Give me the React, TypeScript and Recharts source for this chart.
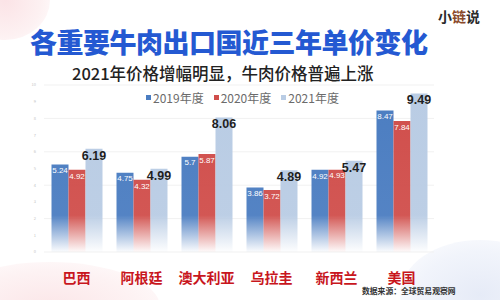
import { BarChart, Bar, XAxis, YAxis, CartesianGrid, LabelList } from "recharts";

const countries = ["巴西", "阿根廷", "澳大利亚", "乌拉圭", "新西兰", "美国"];
const y2019 = [5.24, 4.75, 5.7, 3.86, 4.92, 8.47];
const y2020 = [4.92, 4.32, 5.87, 3.72, 4.93, 7.84];
const y2021 = [6.19, 4.99, 8.06, 4.89, 5.47, 9.49];
const yTicks = [0, 1, 2, 3, 4, 5, 6, 7, 8, 9, 10];

const series = [
  { key: "y2019", name: "2019年度", color: "#4b7dc1", grad: "g2019" },
  { key: "y2020", name: "2020年度", color: "#d04e4b", grad: "g2020" },
  { key: "y2021", name: "2021年度", color: "#b9cce4", grad: "g2021" },
];

const data = countries.map((c, i) => ({
  name: c,
  y2019: y2019[i],
  y2020: y2020[i],
  y2021: y2021[i],
}));

const font = '"Noto Sans CJK SC", "Noto Sans", sans-serif';

function LegendRow() {
  return (
    <div
      style={{
        position: "absolute",
        left: 146,
        top: 89,
        display: "flex",
        gap: 10,
        fontSize: 12,
        color: "#6b6b6b",
        fontFamily: font,
      }}
    >
      {series.map((s) => (
        <div key={s.key} style={{ display: "flex", alignItems: "center" }}>
          <span
            style={{
              width: 5,
              height: 5,
              background: s.color,
              display: "inline-block",
              marginRight: 2,
            }}
          />
          {s.name}
        </div>
      ))}
    </div>
  );
}

export default function App() {
  return (
    <div
      style={{
        position: "absolute",
        left: 0,
        top: 0,
        width: 500,
        height: 300,
        background: "#fff",
        overflow: "hidden",
        fontFamily: font,
      }}
    >
      {/* soft background shapes */}
      <div
        style={{
          position: "absolute",
          left: -40,
          top: -40,
          width: 90,
          height: 80,
          borderRadius: "50%",
          background: "radial-gradient(circle, #fbe3e6 0%, #fdf1f2 60%, #ffffff 100%)",
        }}
      />
      <div
        style={{
          position: "absolute",
          left: -60,
          top: 262,
          width: 220,
          height: 90,
          borderRadius: "50%",
          background: "radial-gradient(ellipse, #fbe6e8 0%, #fdf2f3 55%, #ffffff 100%)",
        }}
      />
      <div
        style={{
          position: "absolute",
          left: 400,
          top: 240,
          width: 160,
          height: 110,
          borderRadius: "50%",
          background: "radial-gradient(ellipse, #e6ebf7 0%, #f1f4fb 55%, #ffffff 100%)",
        }}
      />

      <div
        style={{
          position: "absolute",
          left: 438,
          top: 6,
          fontSize: 14,
          fontWeight: 700,
          color: "#2b2b2b",
        }}
      >
        小<span style={{ color: "#8a4a2a" }}>链</span>说
      </div>

      <div
        style={{
          position: "absolute",
          left: 30,
          top: 26.5,
          fontSize: 27,
          fontWeight: 900,
          letterSpacing: -0.5,
          color: "#2459d2",
          whiteSpace: "nowrap",
          lineHeight: 1.1,
        }}
      >
        各重要牛肉出口国近三年单价变化
      </div>

      <div
        style={{
          position: "absolute",
          left: 72,
          top: 63,
          fontSize: 16.5,
          fontWeight: 500,
          color: "#222",
          whiteSpace: "nowrap",
          lineHeight: 1.3,
        }}
      >
        2021年价格增幅明显，牛肉价格普遍上涨
      </div>

      <div style={{ position: "absolute", left: 0, top: 0 }}>
        <BarChart
          width={500}
          height={300}
          data={data}
          margin={{ top: 85, right: 66, bottom: 18, left: 30 }}
          barCategoryGap={7.5}
          barGap={0}
        >
          <defs>
            {series.map((s) => (
              <linearGradient
                key={s.grad}
                id={s.grad}
                gradientUnits="userSpaceOnUse"
                x1="0"
                y1="85"
                x2="0"
                y2="252"
              >
                <stop offset="0" stopColor={s.color} stopOpacity={1} />
                <stop offset="0.78" stopColor={s.color} stopOpacity={0.95} />
                <stop offset="1" stopColor={s.color} stopOpacity={0.02} />
              </linearGradient>
            ))}
          </defs>
          <CartesianGrid vertical={false} stroke="#f1f1f1" />
          <XAxis
            dataKey="name"
            axisLine={false}
            tickLine={false}
            height={30}
            tickMargin={15}
            tick={{ fill: "#c8161d", fontSize: 14, fontWeight: 700, fontFamily: font }}
            interval={0}
          />
          <YAxis
            width={14}
            domain={[0, 10]}
            ticks={yTicks}
            axisLine={false}
            tickLine={false}
            tickMargin={2}
            tick={{ fill: "#c4c4c4", fontSize: 4 }}
          />
          {series.map((s) => (
            <Bar
              key={s.key}
              dataKey={s.key}
              name={s.name}
              fill={`url(#${s.grad})`}
              isAnimationActive={false}
            >
              {s.key === "y2021" ? (
                <LabelList
                  dataKey={s.key}
                  position="insideTop"
                  offset={2}
                  fill="#1f1f1f"
                  fontSize={12.5}
                  fontWeight={700}
                  fontFamily="Liberation Sans, Arial, sans-serif"
                />
              ) : (
                <LabelList
                  dataKey={s.key}
                  position="insideTop"
                  offset={3}
                  fill="#ffffff"
                  fontSize={8}
                  fontFamily="Liberation Sans, Arial, sans-serif"
                />
              )}
            </Bar>
          ))}
        </BarChart>
      </div>

      <LegendRow />

      <div
        style={{
          position: "absolute",
          left: 362,
          top: 286,
          fontSize: 7.8,
          fontWeight: 700,
          color: "#333",
          whiteSpace: "nowrap",
          lineHeight: 1.2,
        }}
      >
        数据来源：全球贸易观察网
      </div>
    </div>
  );
}
